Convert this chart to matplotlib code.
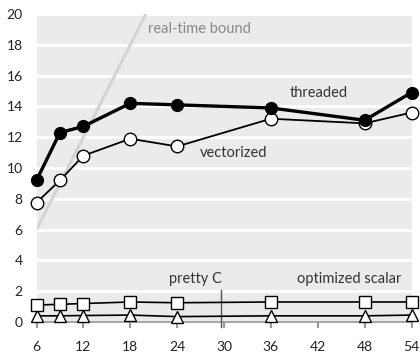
import matplotlib.pyplot as plt

plt.rcParams['font.family'] = ['Lato', 'DejaVu Sans']

cores = [6, 9, 12, 18, 24, 36, 48, 54]
threaded = [9.2, 12.3, 12.7, 14.2, 14.1, 13.9, 13.1, 14.9]
vectorized = [7.75, 9.2, 10.8, 11.9, 11.4, 13.2, 12.9, 13.6]
optimized_scalar = [1.1, 1.15, 1.2, 1.3, 1.25, 1.3, 1.3, 1.3]
pretty_c = [0.4, 0.4, 0.42, 0.45, 0.35, 0.4, 0.4, 0.45]
bound_x = [6, 20]
bound_y = [6, 20]

xticks = [6, 12, 18, 24, 30, 36, 42, 48, 54]
yticks = [0, 2, 4, 6, 8, 10, 12, 14, 16, 18, 20]

fig = plt.figure(figsize=(4.2, 3.55), dpi=100)
ax = fig.add_axes([36.5 / 420, 1 - 322 / 355, 375 / 420, 308 / 355])
ax.set_facecolor('#ebebeb')
ax.set_xlim(6, 54)
ax.set_ylim(0, 20)

for y in yticks[1:]:
    ax.axhline(y, color='white', lw=2, zorder=1)

ax.plot(bound_x, bound_y, color='#d3d3d3', lw=2.2, zorder=2, solid_capstyle='butt')

# pointer for pretty C
ax.plot([29.6, 29.6], [-0.3, 2.05], color='#555555', lw=1, zorder=3, clip_on=False)

ax.plot(cores, pretty_c, color='black', lw=1.2, marker='^', ms=9,
        mfc='white', mec='black', mew=1, zorder=4, clip_on=False)
ax.plot(cores, optimized_scalar, color='black', lw=1.2, marker='s', ms=8.5,
        mfc='white', mec='black', mew=1, zorder=4, clip_on=False)
ax.plot(cores, vectorized, color='black', lw=1.3, marker='o', ms=9,
        mfc='white', mec='black', mew=1, zorder=5, clip_on=False)
ax.plot(cores, threaded, color='black', lw=2.4, marker='o', ms=8.5,
        mfc='black', mec='black', zorder=6, clip_on=False)

txt = dict(fontsize=10.5, color='#333333')
ax.text(20.3, 19.05, 'real-time bound', color='#888888', fontsize=10.5, va='center')
ax.text(38.4, 14.9, 'threaded', va='center', **txt)
ax.text(26.9, 11.0, 'vectorized', va='center', **txt)
ax.text(26.4, 2.8, 'pretty C', ha='center', va='center', **txt)
ax.text(46.0, 2.8, 'optimized scalar', ha='center', va='center', **txt)

for s in ['left', 'right', 'top']:
    ax.spines[s].set_visible(False)
ax.spines['bottom'].set_color('#999999')
ax.spines['bottom'].set_linewidth(1.2)

ax.set_xticks(xticks)
ax.set_yticks(yticks)
ax.tick_params(axis='x', length=4, width=1.5, color='#999999', labelsize=10,
               labelcolor='#222222', pad=9.5)
ax.tick_params(axis='y', length=0, labelsize=10, labelcolor='#222222', pad=10)

fig.savefig('out.png', dpi=100)
